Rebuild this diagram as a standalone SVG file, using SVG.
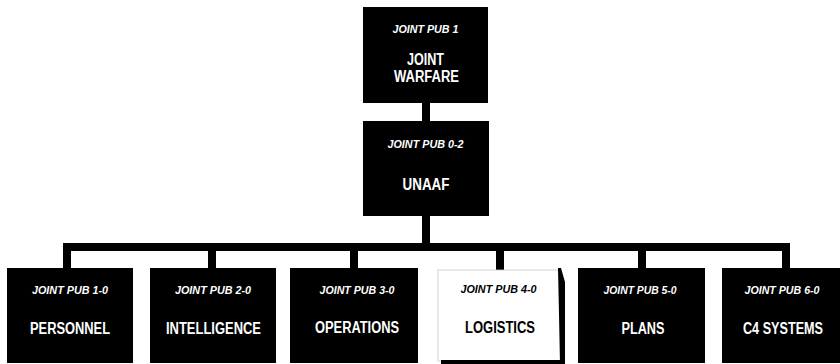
<svg xmlns="http://www.w3.org/2000/svg" width="840" height="364" viewBox="0 0 840 364">
<style>
.box{fill:#000;}
.sub{font-family:"Liberation Sans",Arial,sans-serif;font-weight:bold;font-style:italic;font-size:10.5px;fill:#fff;text-anchor:middle;}
.main{font-family:"Liberation Sans",Arial,sans-serif;font-weight:bold;font-size:16px;fill:#fff;text-anchor:middle;}
.dark .sub,.dark .main{fill:#000;}
.conn{fill:#000;}
</style>
<rect width="840" height="364" fill="#fff"/>
<g id="connectors" class="conn">
<rect x="422" y="102" width="8" height="20"/>
<rect x="422" y="215" width="8" height="30"/>
<rect x="63" y="243" width="727" height="8"/>
<rect x="63" y="250" width="8" height="19"/>
<rect x="208" y="250" width="8" height="19"/>
<rect x="350" y="250" width="8" height="19"/>
<rect x="496" y="250" width="8" height="20"/>
<rect x="638" y="250" width="8" height="19"/>
<rect x="782" y="250" width="8" height="19"/>
</g>
<g id="jp1">
<rect class="box" x="363" y="7" width="125" height="96"/>
<text class="sub" x="425.5" y="32.5" textLength="66" lengthAdjust="spacingAndGlyphs">JOINT PUB 1</text>
<text class="main" x="425.5" y="65" textLength="37" lengthAdjust="spacingAndGlyphs">JOINT</text>
<text class="main" x="426.5" y="82" textLength="65" lengthAdjust="spacingAndGlyphs">WARFARE</text>
</g>
<g id="jp0-2">
<rect class="box" x="363" y="121" width="126" height="95"/>
<text class="sub" x="425.5" y="148" textLength="76" lengthAdjust="spacingAndGlyphs">JOINT PUB 0-2</text>
<text class="main" x="426" y="190" textLength="47" lengthAdjust="spacingAndGlyphs">UNAAF</text>
</g>
<g id="jp1-0">
<rect class="box" x="7" y="268" width="126" height="95"/>
<text class="sub" x="70" y="293.5" textLength="76" lengthAdjust="spacingAndGlyphs">JOINT PUB 1-0</text>
<text class="main" x="70" y="333.5" textLength="80" lengthAdjust="spacingAndGlyphs">PERSONNEL</text>
</g>
<g id="jp2-0">
<rect class="box" x="150" y="268" width="126" height="95"/>
<text class="sub" x="213" y="293.5" textLength="76" lengthAdjust="spacingAndGlyphs">JOINT PUB 2-0</text>
<text class="main" x="213.5" y="333.5" textLength="95" lengthAdjust="spacingAndGlyphs">INTELLIGENCE</text>
</g>
<g id="jp3-0">
<rect class="box" x="290" y="268" width="128" height="95"/>
<text class="sub" x="357" y="293.5" textLength="75" lengthAdjust="spacingAndGlyphs">JOINT PUB 3-0</text>
<text class="main" x="357" y="333" textLength="84" lengthAdjust="spacingAndGlyphs">OPERATIONS</text>
</g>
<g id="jp4-0" class="dark">
<rect x="438" y="270" width="122" height="91" fill="#fff" stroke="#c8c8c8" stroke-width="0.8"/>
<polygon points="558,268 561,268 565,282 565,365 441,365 441,360 560,360" fill="#000"/>
<text class="sub" x="498.5" y="293" textLength="76" lengthAdjust="spacingAndGlyphs">JOINT PUB 4-0</text>
<text class="main" x="500" y="333" textLength="70" lengthAdjust="spacingAndGlyphs">LOGISTICS</text>
</g>
<g id="jp5-0">
<rect class="box" x="578" y="268" width="127" height="95"/>
<text class="sub" x="640" y="293.5" textLength="73" lengthAdjust="spacingAndGlyphs">JOINT PUB 5-0</text>
<text class="main" x="643" y="333.5" textLength="43" lengthAdjust="spacingAndGlyphs">PLANS</text>
</g>
<g id="jp6-0">
<rect class="box" x="722" y="268" width="118" height="95"/>
<text class="sub" x="782" y="293.5" textLength="75" lengthAdjust="spacingAndGlyphs">JOINT PUB 6-0</text>
<text class="main" transform="translate(783 333.5) scale(0.79 1)" x="0" y="0">C4 SYSTEMS</text>
</g>
</svg>
